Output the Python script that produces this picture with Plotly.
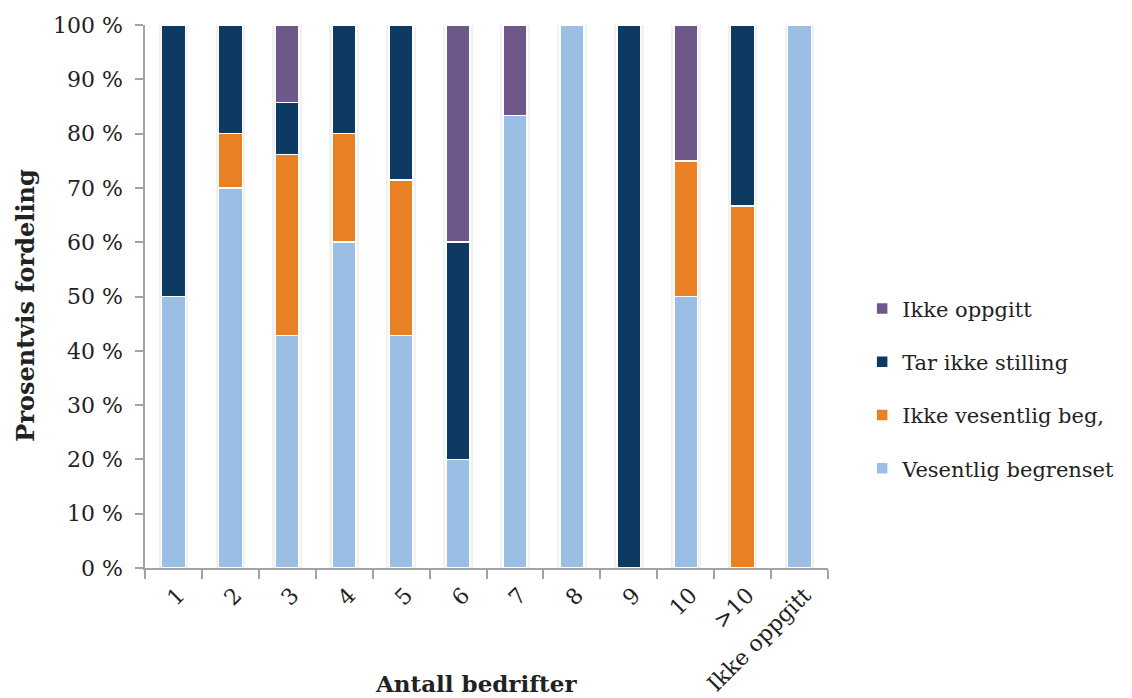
import plotly.graph_objects as go

# Fordeling av svar etter antall bedrifter (prosent)
categories = ["1", "2", "3", "4", "5", "6", "7", "8", "9", "10", ">10", "Ikke oppgitt"]

vesentlig_begrenset = [50.0, 70.0, 42.86, 60.0, 42.86, 20.0, 83.33, 100.0, 0.0, 50.0, 0.0, 100.0]
ikke_vesentlig_beg = [0.0, 10.0, 33.33, 20.0, 28.57, 0.0, 0.0, 0.0, 0.0, 25.0, 66.67, 0.0]
tar_ikke_stilling = [50.0, 20.0, 9.52, 20.0, 28.57, 40.0, 0.0, 0.0, 100.0, 0.0, 33.33, 0.0]
ikke_oppgitt = [0.0, 0.0, 14.29, 0.0, 0.0, 40.0, 16.67, 0.0, 0.0, 25.0, 0.0, 0.0]

series = [
    ("Vesentlig begrenset", vesentlig_begrenset, "#9BBFE4"),
    ("Ikke vesentlig beg,", ikke_vesentlig_beg, "#E98024"),
    ("Tar ikke stilling", tar_ikke_stilling, "#0C3A62"),
    ("Ikke oppgitt", ikke_oppgitt, "#6E5889"),
]

FONT = "DejaVu Serif"
AXIS_GREY = "#A3A3A3"

totals = [sum(vals) for vals in zip(*(s[1] for s in series))]

fig = go.Figure()

# soft shadow behind each column
fig.add_trace(go.Bar(
    x=categories, y=totals, width=0.52,
    marker=dict(color="rgba(0,0,0,0.055)", line=dict(width=0)),
    showlegend=False, hoverinfo="skip", xaxis="x", yaxis="y",
))

n = len(series)
for i, (name, vals, color) in enumerate(series):
    fig.add_trace(go.Bar(
        x=categories, y=vals, name=name, width=0.42,
        legendgroup=name, legendrank=n - i,
        marker=dict(color=color, line=dict(color="white", width=1.5)),
        xaxis="x2", yaxis="y",
    ))

fig.update_layout(
    barmode="stack",
    width=1132, height=698,
    margin=dict(l=145, r=302, t=25, b=130),
    paper_bgcolor="white", plot_bgcolor="white",
    font=dict(family=FONT, size=22, color="#222222"),
    xaxis=dict(
        type="category", range=[-0.5, 11.5], automargin=False,
        showline=True, linecolor=AXIS_GREY, linewidth=1.5,
        ticks="outside", tickson="boundaries", ticklen=9, tickcolor=AXIS_GREY, tickwidth=1.5,
        tickangle=-45, showgrid=False, zeroline=False,
        ticklabelstandoff=4, ticklabelshift=5,
        tickfont=dict(family=FONT, size=22),
    ),
    xaxis2=dict(
        type="category", range=[-0.5, 11.5], overlaying="x", visible=False,
        matches="x",
    ),
    yaxis=dict(
        range=[0, 100], dtick=10, ticksuffix=" %", automargin=False,
        showline=True, linecolor=AXIS_GREY, linewidth=1.5,
        ticks="outside", ticklen=8, tickcolor=AXIS_GREY, tickwidth=1.5,
        showgrid=False, zeroline=False, ticklabelstandoff=8,
        tickfont=dict(family=FONT, size=22),
    ),
    legend=dict(
        x=1.05, y=0.33, xanchor="left", yanchor="middle",
        traceorder="grouped", tracegroupgap=23,
        font=dict(family=FONT, size=21, color="#222222"),
        bgcolor="rgba(0,0,0,0)",
    ),
    annotations=[
        dict(text="<b>Antall bedrifter</b>", xref="paper", yref="paper",
             x=0.485, y=-0.213, xanchor="center", yanchor="middle", showarrow=False,
             font=dict(family=FONT, size=23, color="#222222")),
        dict(text="<b>Prosentvis fordeling</b>", xref="paper", yref="paper",
             x=-0.175, y=0.484, xanchor="center", yanchor="middle", showarrow=False,
             textangle=-90, font=dict(family=FONT, size=24, color="#222222")),
    ],
)

fig.write_html("out.html")
